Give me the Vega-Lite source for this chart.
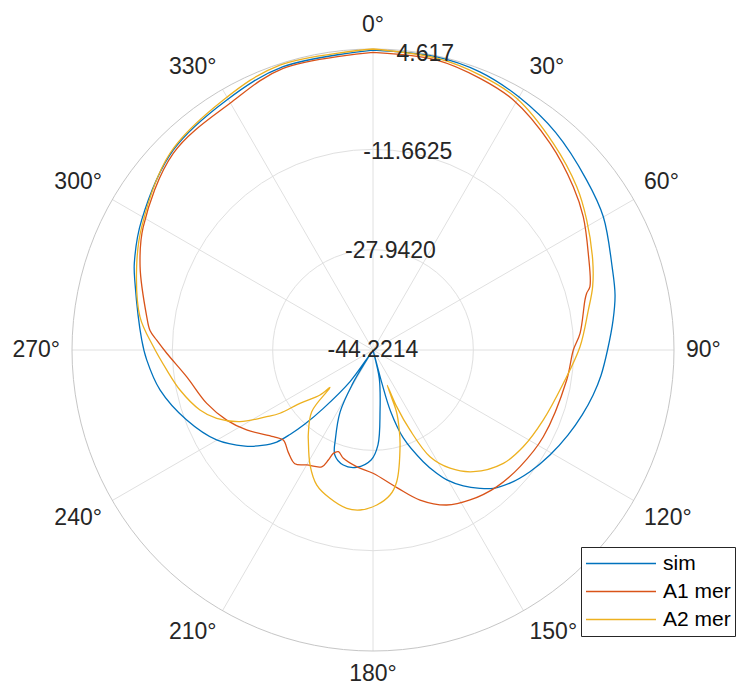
{
  "$schema": "https://vega.github.io/schema/vega-lite/v6.json",
  "width": 739,
  "height": 689,
  "padding": 0,
  "autosize": {"type": "none"},
  "background": "white",
  "config": {"view": {"stroke": null}, "font": "Liberation Sans"},
  "datasets": {
    "curves": [
      {"s":"sim","a":0,"r":4.45},{"s":"sim","a":12,"r":4.45},{"s":"sim","a":21,"r":4.13},{"s":"sim","a":30,"r":3.16},{"s":"sim","a":40,"r":1.86},{"s":"sim","a":51.5,"r":0.07},{"s":"sim","a":60,"r":-1.06},{"s":"sim","a":71,"r":-3.17},{"s":"sim","a":77.2,"r":-3.95},{"s":"sim","a":82.9,"r":-4.97},{"s":"sim","a":90,"r":-6.17},{"s":"sim","a":96.3,"r":-6.99},{"s":"sim","a":101.6,"r":-7.78},{"s":"sim","a":107.3,"r":-8.7},{"s":"sim","a":113.6,"r":-9.71},{"s":"sim","a":120.7,"r":-10.83},{"s":"sim","a":127.8,"r":-12.0},{"s":"sim","a":134.2,"r":-13.23},{"s":"sim","a":139,"r":-14.48},{"s":"sim","a":142.3,"r":-15.84},{"s":"sim","a":146.4,"r":-17.74},{"s":"sim","a":150.4,"r":-19.98},{"s":"sim","a":152.7,"r":-21.7},{"s":"sim","a":155.8,"r":-24.35},{"s":"sim","a":161,"r":-29.13},{"s":"sim","a":164,"r":-33.84},{"s":"sim","a":165,"r":-38.87},{"s":"sim","a":166,"r":-44.2214},{"s":"sim","a":167.5,"r":-39.52},{"s":"sim","a":173.5,"r":-34.16},{"s":"sim","a":177,"r":-28.81},{"s":"sim","a":181,"r":-26.37},{"s":"sim","a":188,"r":-25.01},{"s":"sim","a":194.5,"r":-24.95},{"s":"sim","a":200,"r":-26.1},{"s":"sim","a":203,"r":-28.64},{"s":"sim","a":208,"r":-32.86},{"s":"sim","a":211,"r":-37.57},{"s":"sim","a":212.5,"r":-42.27},{"s":"sim","a":213.5,"r":-43.73},{"s":"sim","a":215,"r":-42.92},{"s":"sim","a":216,"r":-37.89},{"s":"sim","a":220.4,"r":-31.79},{"s":"sim","a":222.6,"r":-27.9},{"s":"sim","a":224.5,"r":-25.01},{"s":"sim","a":226.3,"r":-22.61},{"s":"sim","a":229.3,"r":-20.47},{"s":"sim","a":233.1,"r":-18.26},{"s":"sim","a":240.1,"r":-14.95},{"s":"sim","a":249.4,"r":-11.93},{"s":"sim","a":259.4,"r":-9.06},{"s":"sim","a":267.5,"r":-7.47},{"s":"sim","a":272.5,"r":-6.66},{"s":"sim","a":285.7,"r":-4.11},{"s":"sim","a":290,"r":-3.01},{"s":"sim","a":299.3,"r":-1.17},{"s":"sim","a":315,"r":1.63},{"s":"sim","a":329.7,"r":2.78},{"s":"sim","a":342.4,"r":4.0},{"s":"sim","a":360,"r":4.45},
      {"s":"A1 mer","a":0,"r":4.08},{"s":"A1 mer","a":12.4,"r":3.95},{"s":"A1 mer","a":21.5,"r":3.16},{"s":"A1 mer","a":29.3,"r":2.3},{"s":"A1 mer","a":40.6,"r":-0.07},{"s":"A1 mer","a":50.8,"r":-2.29},{"s":"A1 mer","a":57.6,"r":-3.82},{"s":"A1 mer","a":65.8,"r":-5.93},{"s":"A1 mer","a":73.7,"r":-7.55},{"s":"A1 mer","a":75.1,"r":-8.35},{"s":"A1 mer","a":76.7,"r":-8.88},{"s":"A1 mer","a":85.4,"r":-10.52},{"s":"A1 mer","a":90,"r":-11.72},{"s":"A1 mer","a":98.8,"r":-12.42},{"s":"A1 mer","a":117,"r":-13.21},{"s":"A1 mer","a":128.4,"r":-13.77},{"s":"A1 mer","a":137.9,"r":-14.3},{"s":"A1 mer","a":147.1,"r":-15.24},{"s":"A1 mer","a":154.6,"r":-16.38},{"s":"A1 mer","a":162.6,"r":-18.71},{"s":"A1 mer","a":170,"r":-21.51},{"s":"A1 mer","a":180,"r":-24.22},{"s":"A1 mer","a":188,"r":-25.11},{"s":"A1 mer","a":195.3,"r":-26.0},{"s":"A1 mer","a":198.8,"r":-26.8},{"s":"A1 mer","a":201,"r":-26.26},{"s":"A1 mer","a":202.1,"r":-24.96},{"s":"A1 mer","a":203.7,"r":-23.53},{"s":"A1 mer","a":210,"r":-22.69},{"s":"A1 mer","a":214.5,"r":-21.83},{"s":"A1 mer","a":219.5,"r":-22.64},{"s":"A1 mer","a":224.9,"r":-23.6},{"s":"A1 mer","a":229,"r":-22.79},{"s":"A1 mer","a":237.7,"r":-19.96},{"s":"A1 mer","a":244.4,"r":-17.9},{"s":"A1 mer","a":252.2,"r":-15.89},{"s":"A1 mer","a":261.8,"r":-13.69},{"s":"A1 mer","a":269.1,"r":-10.75},{"s":"A1 mer","a":272.6,"r":-9.09},{"s":"A1 mer","a":275,"r":-7.9},{"s":"A1 mer","a":278.4,"r":-7.11},{"s":"A1 mer","a":289.7,"r":-4.08},{"s":"A1 mer","a":298.2,"r":-1.92},{"s":"A1 mer","a":314.6,"r":1.26},{"s":"A1 mer","a":329.9,"r":2.04},{"s":"A1 mer","a":342.3,"r":3.74},{"s":"A1 mer","a":360,"r":4.08},
      {"s":"A2 mer","a":0,"r":4.617},{"s":"A2 mer","a":12.3,"r":4.23},{"s":"A2 mer","a":21.3,"r":3.64},{"s":"A2 mer","a":29.7,"r":2.8},{"s":"A2 mer","a":41.1,"r":0.28},{"s":"A2 mer","a":51.3,"r":-1.86},{"s":"A2 mer","a":58.7,"r":-3.64},{"s":"A2 mer","a":67.7,"r":-5.7},{"s":"A2 mer","a":73.9,"r":-7.13},{"s":"A2 mer","a":79.5,"r":-8.69},{"s":"A2 mer","a":89.1,"r":-10.63},{"s":"A2 mer","a":99.9,"r":-12.87},{"s":"A2 mer","a":112.3,"r":-14.35},{"s":"A2 mer","a":122.8,"r":-15.23},{"s":"A2 mer","a":131,"r":-16.2},{"s":"A2 mer","a":140.5,"r":-18.63},{"s":"A2 mer","a":146.9,"r":-21.33},{"s":"A2 mer","a":151.9,"r":-24.59},{"s":"A2 mer","a":155.2,"r":-29.93},{"s":"A2 mer","a":157.3,"r":-34.26},{"s":"A2 mer","a":158,"r":-38.05},{"s":"A2 mer","a":158.6,"r":-36.0},{"s":"A2 mer","a":159.2,"r":-33.5},{"s":"A2 mer","a":161.5,"r":-30.9},{"s":"A2 mer","a":164.1,"r":-28.19},{"s":"A2 mer","a":169.8,"r":-22.51},{"s":"A2 mer","a":173.3,"r":-20.53},{"s":"A2 mer","a":178.6,"r":-19.07},{"s":"A2 mer","a":184.6,"r":-18.18},{"s":"A2 mer","a":189.4,"r":-18.18},{"s":"A2 mer","a":196.2,"r":-19.17},{"s":"A2 mer","a":202.6,"r":-20.49},{"s":"A2 mer","a":208.7,"r":-22.95},{"s":"A2 mer","a":215.7,"r":-26.24},{"s":"A2 mer","a":217.3,"r":-26.89},{"s":"A2 mer","a":224.8,"r":-30.11},{"s":"A2 mer","a":228.2,"r":-34.49},{"s":"A2 mer","a":229,"r":-34.97},{"s":"A2 mer","a":229.7,"r":-32.94},{"s":"A2 mer","a":233.9,"r":-29.55},{"s":"A2 mer","a":235.8,"r":-25.97},{"s":"A2 mer","a":237.9,"r":-23.86},{"s":"A2 mer","a":241.7,"r":-19.71},{"s":"A2 mer","a":246.4,"r":-16.54},{"s":"A2 mer","a":250.9,"r":-14.51},{"s":"A2 mer","a":258.3,"r":-12.24},{"s":"A2 mer","a":264.5,"r":-10.59},{"s":"A2 mer","a":270.9,"r":-8.57},{"s":"A2 mer","a":278.1,"r":-6.03},{"s":"A2 mer","a":289.4,"r":-3.56},{"s":"A2 mer","a":298.1,"r":-1.69},{"s":"A2 mer","a":314.1,"r":1.65},{"s":"A2 mer","a":329.1,"r":3.06},{"s":"A2 mer","a":341.9,"r":4.42},{"s":"A2 mer","a":360,"r":4.617}
    ],
    "spokes": [{"a":0},{"a":30},{"a":60},{"a":90},{"a":120},{"a":150},{"a":180},{"a":210},{"a":240},{"a":270},{"a":300},{"a":330}],
    "rings": [{"r":-27.942,"kind":"grid"},{"r":-11.6625,"kind":"grid"},{"r":4.617,"kind":"outer"}],
    "rlabels": [{"r":-44.2214,"t":"-44.2214"},{"r":-27.942,"t":"-27.9420"},{"r":-11.6625,"t":"-11.6625"},{"r":4.617,"t":"4.617"}],
    "alabels": [{"a":0,"t":"0°"},{"a":30,"t":"30°"},{"a":60,"t":"60°"},{"a":90,"t":"90°"},{"a":120,"t":"120°"},{"a":150,"t":"150°"},{"a":180,"t":"180°"},{"a":210,"t":"210°"},{"a":240,"t":"240°"},{"a":270,"t":"270°"},{"a":300,"t":"300°"},{"a":330,"t":"330°"}]
  },
  "layer": [
    {
      "data": {"name": "spokes"},
      "transform": [
        {"calculate": "sin(datum.a*PI/180)", "as": "sx"},
        {"calculate": "cos(datum.a*PI/180)", "as": "sy"},
        {"calculate": "0", "as": "ox"}
      ],
      "mark": {"type": "rule", "stroke": "#e0e0e0", "strokeWidth": 1},
      "encoding": {
        "x": {"field": "ox", "type": "quantitative", "scale": {"domain": [-1.2392, 1.2159], "nice": false, "zero": false}, "axis": null},
        "y": {"field": "ox", "type": "quantitative", "scale": {"domain": [-1.1262, 1.1628], "nice": false, "zero": false}, "axis": null},
        "x2": {"field": "sx"},
        "y2": {"field": "sy"}
      }
    },
    {
      "data": {"name": "rings"},
      "transform": [
        {"calculate": "(datum.r + 44.2214)/48.8384", "as": "rn"},
        {"calculate": "0", "as": "ox"}
      ],
      "mark": {"type": "point", "shape": "circle", "filled": false, "strokeWidth": 1, "opacity": 1},
      "encoding": {
        "x": {"field": "ox", "type": "quantitative"},
        "y": {"field": "ox", "type": "quantitative"},
        "size": {"field": "rn", "type": "quantitative", "scale": {"type": "pow", "exponent": 2, "domain": [0, 1], "range": [0, 362404], "zero": true, "nice": false}, "legend": null},
        "stroke": {"condition": {"test": "datum.kind == 'outer'", "value": "#c6c6c6"}, "value": "#e0e0e0"}
      }
    },
    {
      "data": {"name": "curves"},
      "transform": [
        {"calculate": "(datum.r + 44.2214)/48.8384", "as": "rn"},
        {"calculate": "datum.rn*sin(datum.a*PI/180)", "as": "cx"},
        {"calculate": "datum.rn*cos(datum.a*PI/180)", "as": "cy"}
      ],
      "mark": {"type": "line", "strokeWidth": 1.3, "interpolate": "catmull-rom"},
      "encoding": {
        "x": {"field": "cx", "type": "quantitative"},
        "y": {"field": "cy", "type": "quantitative"},
        "order": {"field": "a", "type": "quantitative"},
        "color": {
          "field": "s", "type": "nominal",
          "scale": {"domain": ["sim", "A1 mer", "A2 mer"], "range": ["#0072BD", "#D95319", "#EDB120"]},
          "legend": {
            "title": null, "orient": "none", "legendX": 581, "legendY": 547,
            "symbolType": "stroke", "symbolSize": 4900, "symbolStrokeWidth": 1.3,
            "labelFontSize": 21, "labelFont": "Liberation Sans", "labelColor": "#000000",
            "strokeColor": "#262626", "fillColor": "white", "padding": 4,
            "clipHeight": 25, "rowPadding": 3, "labelOffset": 6
          }
        }
      }
    },
    {
      "data": {"name": "rlabels"},
      "transform": [
        {"calculate": "(datum.r + 44.2214)/48.8384", "as": "rn"},
        {"calculate": "datum.rn*sin(10*PI/180)", "as": "lx"},
        {"calculate": "datum.rn*cos(10*PI/180)", "as": "ly"}
      ],
      "mark": {"type": "text", "align": "center", "baseline": "middle", "fontSize": 23, "color": "#262626", "font": "Liberation Sans"},
      "encoding": {
        "x": {"field": "lx", "type": "quantitative"},
        "y": {"field": "ly", "type": "quantitative"},
        "text": {"field": "t", "type": "nominal"}
      }
    },
    {
      "data": {"name": "alabels"},
      "transform": [
        {"calculate": "sin(datum.a*PI/180)", "as": "lx"},
        {"calculate": "cos(datum.a*PI/180)", "as": "ly"}
      ],
      "mark": {
        "type": "text", "fontSize": 23, "color": "#262626", "font": "Liberation Sans",
        "dx": {"expr": "12*sin(datum.a*PI/180)"},
        "dy": {"expr": "-12*cos(datum.a*PI/180)"},
        "align": {"expr": "datum.a == 0 || datum.a == 180 ? 'center' : (datum.a < 180 ? 'left' : 'right')"},
        "baseline": {"expr": "datum.a == 90 || datum.a == 270 ? 'middle' : ((datum.a < 90 || datum.a > 270) ? 'bottom' : 'top')"}
      },
      "encoding": {
        "x": {"field": "lx", "type": "quantitative"},
        "y": {"field": "ly", "type": "quantitative"},
        "text": {"field": "t", "type": "nominal"}
      }
    }
  ]
}
